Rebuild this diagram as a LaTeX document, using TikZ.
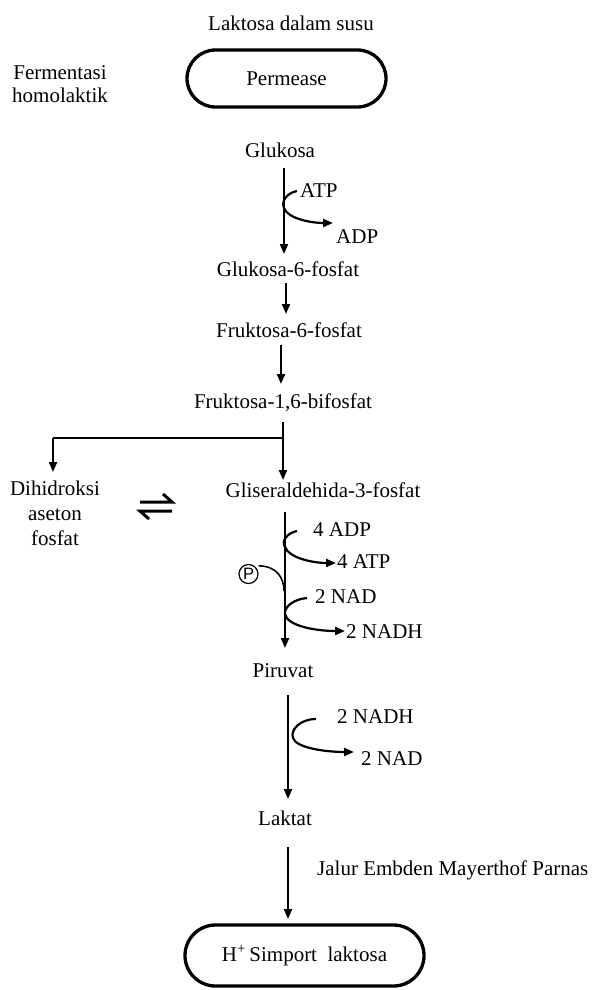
\documentclass[tikz,border=0pt]{standalone}
\usepackage{fontspec}
\setmainfont{Liberation Serif}
\newfontfamily\psans{Liberation Sans}
\usetikzlibrary{arrows.meta}
\begin{document}
\begin{tikzpicture}[x=1pt,y=-1pt,
  txt/.style={inner sep=0pt, anchor=base, font=\fontsize{21}{25}\selectfont},
  arr/.style={line width=2pt, -{Triangle[length=10pt,width=8pt]}},
  sidearr/.style={line width=2.2pt, -{Triangle[length=10pt,width=8pt]}},
  stadium/.style={draw, line width=3.3pt, inner sep=0pt, font=\fontsize{21}{25}\selectfont},
]
\useasboundingbox (0,0) rectangle (593,990);

% top
\node[txt] (lak) at (291,31) {Laktosa dalam susu};
\node[stadium, minimum width=199pt, minimum height=57pt, rounded corners=28.5pt] (perm) at (286.5,78.5) {Permease};
\node[txt, align=center, font=\fontsize{21}{22}\selectfont] (ferm) at (60,102) {Fermentasi\\homolaktik};

% chain
\node[txt] (glu) at (280,157) {Glukosa};
\node[txt] (g6p) at (288,276) {Glukosa-6-fosfat};
\node[txt] (f6p) at (289,337) {Fruktosa-6-fosfat};
\node[txt] (fbp) at (283,408) {Fruktosa-1,6-bifosfat};
\node[txt] (gap) at (323,497) {Gliseraldehida-3-fosfat};
\node[txt, align=center, font=\fontsize{21}{25}\selectfont] (dhap) at (55,545) {Dihidroksi\\aseton\\fosfat};
\node[txt] (pir) at (283,677) {Piruvat};
\node[txt] (lakt) at (285,825) {Laktat};
\node[txt, anchor=base west] (jalur) at (317,875) {Jalur Embden Mayerthof Parnas};
\node[stadium, minimum width=239pt, minimum height=61pt, rounded corners=30.5pt] (sim) at (304.5,955.5) {H\textsuperscript{+}\,Simport\ \ laktosa\hspace{16pt}};

% side labels
\node[txt, anchor=base west] (atp) at (300,197) {ATP};
\node[txt, anchor=base west] (adp) at (336,243) {ADP};
\node[txt, anchor=base west] (adp4) at (313,536) {4 ADP};
\node[txt, anchor=base west] (atp4) at (337,568) {4 ATP};
\node[txt, anchor=base west] (nad2) at (315,603) {2 NAD};
\node[txt, anchor=base west] (nadh2) at (346,638) {2 NADH};
\node[txt, anchor=base west] (nadh2b) at (337,723) {2 NADH};
\node[txt, anchor=base west] (nad2b) at (361,765) {2 NAD};
\node[draw, circle, line width=1.2pt, minimum size=19pt, inner sep=0pt, font=\psans\fontsize{16.5}{17}\selectfont] (pc) at (248.5,574) {P};

% coordinates for arrows
\coordinate (a1s) at (284,168); \coordinate (a1e) at (284,254);
\coordinate (a2s) at (286,283); \coordinate (a2e) at (286,314);
\coordinate (a3s) at (281,345); \coordinate (a3e) at (281,384);
\coordinate (br)  at (283,438); \coordinate (bl) at (53,438);
\coordinate (a4s) at (283,422); \coordinate (a4e) at (283,480);
\coordinate (a5e) at (53,472);
\coordinate (a6s) at (285,512); \coordinate (a6e) at (285,648);
\coordinate (a7s) at (288,695); \coordinate (a7e) at (288,799);
\coordinate (a8s) at (288,847); \coordinate (a8e) at (288,919);

\draw[arr] (a1s) -- (a1e);
\draw[arr] (a2s) -- (a2e);
\draw[arr] (a3s) -- (a3e);
\draw[arr] (a4s) -- (a4e);
\draw[line width=2pt] (br) -- (bl);
\draw[arr] (bl) -- (a5e);
\draw[arr] (a6s) -- (a6e);
\draw[arr] (a7s) -- (a7e);
\draw[arr] (a8s) -- (a8e);

% side curves
\coordinate (c1) at (297,191); \coordinate (c1e) at (333,223);
\draw[sidearr] (c1) .. controls (287,193) and (281,201) .. (284,208) .. controls (288,219) and (312,223) .. (c1e);
\coordinate (c2) at (297,531); \coordinate (c2e) at (336,563);
\draw[sidearr] (c2) .. controls (287,533) and (281,541) .. (285,547) .. controls (289,558) and (313,563) .. (c2e);
\coordinate (c3) at (307,598); \coordinate (c3e) at (345,631);
\draw[sidearr] (c3) .. controls (295,599) and (284,606) .. (285,614) .. controls (287,626) and (316,631) .. (c3e);
\coordinate (c4) at (316,719); \coordinate (c4e) at (354,752);
\draw[sidearr] (c4) .. controls (300,719) and (290,730) .. (293,738) .. controls (296,748) and (326,752) .. (c4e);
\coordinate (pe) at (284,591);
\draw[line width=1.6pt] (pc.north east) ++(3,-1) .. controls (276,566) and (284,577) .. (pe);

% equilibrium harpoons
\draw[line width=3pt, line join=miter] (140,502) -- (172,502) -- (163,494);
\draw[line width=3pt, line join=miter] (172,511) -- (140,511) -- (149,519);
\end{tikzpicture}
\end{document}
